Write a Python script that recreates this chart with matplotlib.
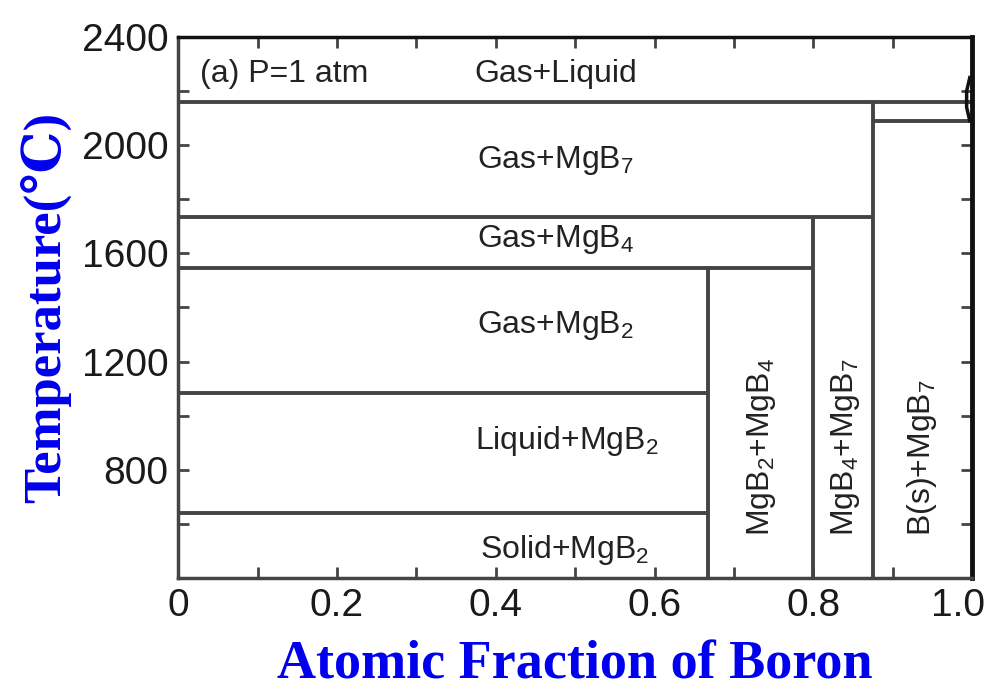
import matplotlib
matplotlib.use('Agg')
import matplotlib.pyplot as plt
import matplotlib.transforms as mtransforms
import numpy as np

# phase boundaries (x = atomic fraction of boron, T in degC)
h_lines_y = [2160, 2090, 1735, 1545, 1085, 640]
h_lines_x0 = [0.0, 0.875, 0.0, 0.0, 0.0, 0.0]
h_lines_x1 = [1.0, 1.0, 0.875, 0.8, 0.667, 0.667]

v_lines_x = [0.667, 0.8, 0.875]
v_lines_top = [1545, 1735, 2160]

# liquidus near pure boron
liq_x = [0.997, 0.993, 0.993, 0.997]
liq_y = [2090, 2140, 2200, 2250]

# region labels
labels = ['Gas+Liquid', 'Gas+MgB$_\\mathregular{7}$', 'Gas+MgB$_\\mathregular{4}$',
          'Gas+MgB$_\\mathregular{2}$', 'Liquid+MgB$_\\mathregular{2}$', 'Solid+MgB$_\\mathregular{2}$']
label_x = [0.475, 0.475, 0.475, 0.475, 0.49, 0.487]
label_y = [2265, 1945, 1650, 1335, 905, 505]

vlabels = ['MgB$_\\mathregular{2}$+MgB$_\\mathregular{4}$', 'MgB$_\\mathregular{4}$+MgB$_\\mathregular{7}$',
           'B(s)+MgB$_\\mathregular{7}$']
vlabel_x = [0.735, 0.84, 0.937]
vlabel_y = [555, 555, 555]

plt.rcParams['font.family'] = ['Liberation Sans', 'DejaVu Sans']

fig = plt.figure(figsize=(9.9, 6.98), dpi=100)
ax = fig.add_axes([0.18, 0.172, 0.802, 0.775])

lc = '#444444'
for y, a, b in zip(h_lines_y, h_lines_x0, h_lines_x1):
    ax.plot([a, b], [y, y], color=lc, lw=2.8, solid_capstyle='butt')
for x, t in zip(v_lines_x, v_lines_top):
    ax.plot([x, x], [400, t], color=lc, lw=2.8, solid_capstyle='butt')
ax.plot(liq_x, liq_y, color='#111111', lw=2.5)

for s, x, y in zip(labels, label_x, label_y):
    ax.text(x, y, s, fontsize=23, ha='center', va='center', color='#222222')
for s, x, y in zip(vlabels, vlabel_x, vlabel_y):
    ax.text(x, y, s, fontsize=23, ha='center', va='bottom', rotation=90, color='#222222')
ax.text(0.027, 2265, '(a) P=1 atm', fontsize=23, ha='left', va='center', color='#222222')

ax.set_xlim(0, 1.0)
ax.set_ylim(400, 2400)
ax.set_xticks([0, 0.2, 0.4, 0.6, 0.8, 1.0])
ax.set_xticklabels(['0', '0.2', '0.4', '0.6', '0.8', '1.0'])
ax.set_xticks(np.arange(0, 1.01, 0.1), minor=True)
ax.set_yticks([800, 1200, 1600, 2000, 2400])
ax.set_yticks(np.arange(400, 2401, 200), minor=True)
ax.tick_params(which='both', direction='in', top=True, right=True, color=lc, width=2)
ax.tick_params(which='major', length=8, labelsize=28, pad=7, labelcolor='#1a1a1a')
ax.tick_params(which='minor', length=8)
# keep the last x label inside the figure
last = ax.get_xticklabels()[-1]
last.set_transform(last.get_transform() + mtransforms.ScaledTranslation(-10 / 72, 0, fig.dpi_scale_trans))
for sp in ax.spines.values():
    sp.set_color(lc)
    sp.set_linewidth(2.5)
ax.spines['right'].set_color('#111111')
ax.spines['right'].set_linewidth(3.5)
ax.spines['top'].set_color('#111111')

ax.set_xlabel('Atomic Fraction of Boron', fontsize=39, fontweight='bold', color='#0000ee',
              family=['Liberation Serif', 'DejaVu Serif'], labelpad=12)
ax.set_ylabel('Temperature(\u2103)', fontsize=38, fontweight='bold', color='#0000ee',
              family=['Liberation Serif', 'DejaVu Serif'], labelpad=8)

fig.savefig('out.png', dpi=100)
